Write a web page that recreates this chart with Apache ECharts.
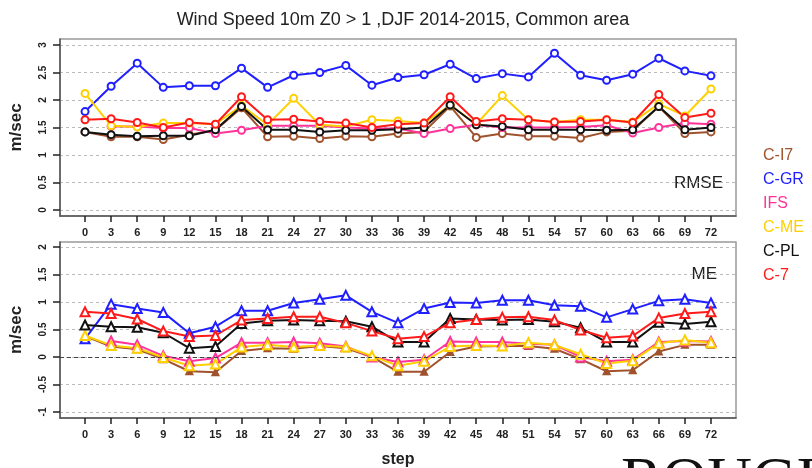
<!DOCTYPE html>
<html>
<head>
<meta charset="utf-8">
<script src="https://cdn.jsdelivr.net/npm/echarts@6/dist/echarts.min.js"></script>
<style>
  html, body { margin: 0; padding: 0; background: #fff; }
  #chart { width: 812px; height: 468px; }
</style>
</head>
<body>
<div id="chart"></div>
<script>
// forecast steps (hours)
var steps = [0, 3, 6, 9, 12, 15, 18, 21, 24, 27, 30, 33, 36, 39, 42, 45, 48, 51, 54, 57, 60, 63, 66, 69, 72];
var names = ['C-I7', 'C-GR', 'IFS', 'C-ME', 'C-PL', 'C-7'];
var colors = ['#A0522D', '#1F1FFF', '#FF3399', '#FFD000', '#111111', '#FF1A1A'];
var rmseTicks = [0, 0.5, 1, 1.5, 2, 2.5, 3];
var meTicks = [-1, -0.5, 0, 0.5, 1, 1.5, 2];

// RMSE (m/sec)
var rmseCI7 = [1.42, 1.33, 1.33, 1.28, 1.37, 1.45, 1.86, 1.33, 1.34, 1.30, 1.34, 1.33, 1.39, 1.42, 1.89, 1.32, 1.39, 1.34, 1.34, 1.31, 1.42, 1.44, 1.88, 1.39, 1.42];
var rmseCGR = [1.79, 2.25, 2.67, 2.23, 2.26, 2.26, 2.58, 2.23, 2.45, 2.50, 2.63, 2.27, 2.41, 2.46, 2.65, 2.39, 2.48, 2.42, 2.85, 2.45, 2.36, 2.47, 2.76, 2.53, 2.44];
var rmseIFS = [null, 1.52, 1.52, 1.49, 1.49, 1.39, 1.45, 1.53, 1.53, 1.53, 1.50, 1.48, 1.48, 1.39, 1.48, 1.55, 1.50, 1.50, 1.50, 1.51, 1.54, 1.40, 1.50, 1.58, 1.56];
var rmseCME = [2.12, 1.53, 1.51, 1.58, 1.58, 1.56, 1.90, 1.55, 2.03, 1.55, 1.52, 1.64, 1.62, 1.58, 1.91, 1.56, 2.08, 1.64, 1.60, 1.64, 1.64, 1.60, 1.93, 1.71, 2.20];
var rmseCPL = [1.42, 1.37, 1.34, 1.35, 1.35, 1.46, 1.88, 1.46, 1.46, 1.42, 1.45, 1.45, 1.47, 1.50, 1.91, 1.55, 1.52, 1.46, 1.46, 1.46, 1.45, 1.46, 1.88, 1.46, 1.50];
var rmseC7 = [1.64, 1.66, 1.59, 1.50, 1.59, 1.56, 2.06, 1.64, 1.65, 1.61, 1.58, 1.50, 1.56, 1.58, 2.06, 1.61, 1.66, 1.64, 1.60, 1.61, 1.64, 1.59, 2.10, 1.68, 1.76];

// ME (m/sec)
var meCI7 = [0.38, 0.19, 0.14, -0.04, -0.26, -0.28, 0.11, 0.16, 0.15, 0.20, 0.16, 0.00, -0.27, -0.27, 0.09, 0.19, 0.20, 0.20, 0.15, -0.04, -0.26, -0.24, 0.10, 0.22, 0.22];
var meCGR = [0.33, 0.96, 0.88, 0.81, 0.43, 0.55, 0.84, 0.84, 0.98, 1.05, 1.12, 0.82, 0.62, 0.88, 0.99, 0.98, 1.03, 1.03, 0.94, 0.92, 0.72, 0.87, 1.02, 1.05, 0.98];
var meIFS = [null, 0.29, 0.22, 0.02, -0.08, -0.02, 0.26, 0.26, 0.27, 0.25, 0.19, 0.00, -0.09, -0.05, 0.28, 0.27, 0.27, 0.24, 0.22, 0.00, -0.08, -0.05, 0.27, 0.29, 0.28];
var meCME = [0.39, 0.21, 0.16, -0.01, -0.16, -0.13, 0.18, 0.22, 0.18, 0.21, 0.18, 0.02, -0.16, -0.08, 0.19, 0.21, 0.20, 0.26, 0.22, 0.05, -0.12, -0.07, 0.25, 0.31, 0.26];
var meCPL = [0.58, 0.55, 0.54, 0.44, 0.16, 0.19, 0.61, 0.66, 0.67, 0.66, 0.65, 0.55, 0.27, 0.27, 0.70, 0.68, 0.67, 0.68, 0.64, 0.53, 0.27, 0.27, 0.63, 0.60, 0.64];
var meC7 = [0.82, 0.79, 0.69, 0.47, 0.37, 0.39, 0.67, 0.70, 0.73, 0.73, 0.62, 0.47, 0.33, 0.37, 0.62, 0.68, 0.72, 0.73, 0.67, 0.49, 0.35, 0.38, 0.71, 0.79, 0.82];

var rmseAll = [rmseCI7, rmseCGR, rmseIFS, rmseCME, rmseCPL, rmseC7];
var meAll = [meCI7, meCGR, meIFS, meCME, meCPL, meC7];

var chart = echarts.init(document.getElementById('chart'));
var font = 'Liberation Sans, Arial, sans-serif';

function pairs(vals) {
  return steps.map(function (s, i) { return [s, vals[i]]; });
}

function xAxisOf(gridIndex, withName) {
  return {
    type: 'value', gridIndex: gridIndex,
    min: -2.88, max: 74.88,
    axisLine: { show: true, onZero: false, lineStyle: { color: '#555', width: 1.5 } },
    axisTick: { show: true, length: 6, customValues: steps, lineStyle: { color: '#222', width: 1.5 } },
    axisLabel: { customValues: steps, margin: 11, fontSize: 11, fontWeight: 'bold', color: '#222', fontFamily: font },
    splitLine: { show: false },
    name: withName ? 'step' : '',
    nameLocation: 'middle', nameGap: 34,
    nameTextStyle: { fontSize: 16, fontWeight: 'bold', color: '#222', fontFamily: font }
  };
}

function yAxisOf(gridIndex, min, max, ticks) {
  return {
    type: 'value', gridIndex: gridIndex, min: min, max: max,
    axisLine: { show: true, onZero: false, lineStyle: { color: '#555', width: 1.5 } },
    axisTick: { show: true, length: 7, customValues: ticks, lineStyle: { color: '#222', width: 1.5 } },
    axisLabel: { customValues: ticks, rotate: 90, margin: 12, fontSize: 10, fontWeight: 'bold', color: '#222', fontFamily: font },
    splitLine: { show: true, lineStyle: { color: '#bbb', type: [3, 3], width: 1 } },
    name: 'm/sec', nameLocation: 'middle', nameGap: 35,
    nameTextStyle: { fontSize: 17, fontWeight: 'bold', color: '#222', fontFamily: font }
  };
}

var series = [];
names.forEach(function (n, k) {
  series.push({
    name: n, type: 'line', xAxisIndex: 0, yAxisIndex: 0,
    data: pairs(rmseAll[k]),
    symbol: 'emptyCircle', symbolSize: 7,
    lineStyle: { color: colors[k], width: 2 },
    itemStyle: { color: colors[k], borderColor: colors[k], borderWidth: 2 },
    connectNulls: false, animation: false
  });
});
names.forEach(function (n, k) {
  var s = {
    name: n, type: 'line', xAxisIndex: 1, yAxisIndex: 1,
    data: pairs(meAll[k]),
    symbol: k === 0 ? 'triangle' : 'emptyTriangle', symbolSize: k === 0 ? 6 : 9,
    lineStyle: { color: colors[k], width: 2 },
    itemStyle: { color: colors[k], borderColor: colors[k], borderWidth: 2 },
    connectNulls: false, animation: false
  };
  if (k === 0) {
    // zero reference line
    s.markLine = {
      silent: true, symbol: 'none', label: { show: false },
      lineStyle: { color: '#444', type: [4, 3], width: 1 },
      data: [{ yAxis: 0 }]
    };
  }
  series.push(s);
});

chart.setOption({
  animation: false,
  title: {
    text: 'Wind Speed 10m Z0 > 1 ,DJF 2014-2015, Common area',
    left: 398, top: 6, textAlign: 'center',
    textStyle: { fontSize: 18, fontWeight: 'normal', color: '#222', fontFamily: font }
  },
  legend: {
    orient: 'vertical', left: 753, top: 143,
    itemWidth: 0, itemHeight: 16, itemGap: 8, icon: 'rect',
    itemStyle: { opacity: 0, borderWidth: 0 },
    lineStyle: { opacity: 0 },
    selectedMode: false,
    data: names.map(function (n, k) {
      return { name: n, textStyle: { color: colors[k] } };
    }),
    textStyle: { fontSize: 16, fontFamily: font, padding: 0 }
  },
  grid: [
    { left: 60, top: 39, width: 676, height: 177, show: true, borderColor: '#999', borderWidth: 1.5, outerBoundsMode: 'none' },
    { left: 60, top: 242, width: 676, height: 176, show: true, borderColor: '#999', borderWidth: 1.5, outerBoundsMode: 'none' }
  ],
  xAxis: [xAxisOf(0, false), xAxisOf(1, true)],
  yAxis: [yAxisOf(0, -0.11, 3.11, rmseTicks), yAxisOf(1, -1.11, 2.09, meTicks)],
  graphic: [
    { type: 'text', x: 723, y: 183, style: { text: 'RMSE', fontSize: 17, fontFamily: font, fill: '#222', textAlign: 'right', textVerticalAlign: 'middle' } },
    { type: 'text', x: 717, y: 274, style: { text: 'ME', fontSize: 17, fontFamily: font, fill: '#222', textAlign: 'right', textVerticalAlign: 'middle' } },
    { type: 'text', x: 621, y: 452, style: { text: 'ROUGHNESS', fontSize: 62, fontFamily: 'Liberation Serif, Times New Roman, serif', fill: '#111', textAlign: 'left', textVerticalAlign: 'top' } }
  ],
  series: series
});
</script>
</body>
</html>
